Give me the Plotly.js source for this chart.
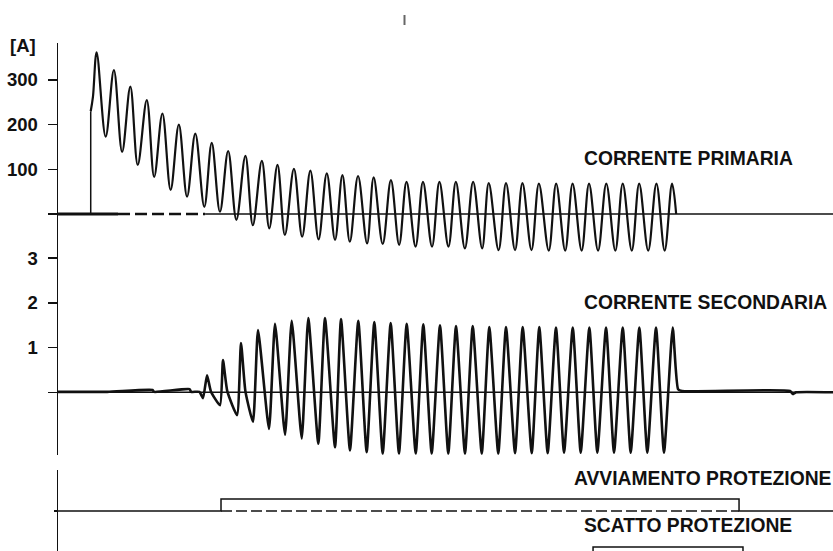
<!DOCTYPE html>
<html><head><meta charset="utf-8">
<script src="https://cdn.plot.ly/plotly-3.0.1.min.js"></script>
<style>html,body{margin:0;padding:0;background:#fff;}#chart{width:833px;height:551px;}</style>
</head><body><div id="chart"></div>
<script>
// ---- data (time in ms) ----
// primary current [A]: key points (onset, peaks and troughs in order)
const primaryOnsetT = [0, 39.8, 39.8];
const primaryOnsetA = [0, 0, 230];
const primaryT = [39.8, 42.5, 47, 58, 68, 78, 88, 97, 108, 117, 127, 137, 147, 157, 167, 178, 187, 197, 207, 217, 228, 237, 248, 257, 267, 276, 287, 297, 307, 317, 327, 337, 346, 355, 365, 376, 384, 395, 405, 415, 424, 435, 444, 455, 464, 475, 484, 495, 505, 516, 524, 536, 545, 556, 565, 576, 585, 597, 606, 617, 626, 637, 646, 657, 667, 678, 687, 698, 707, 718, 728, 738, 747, 752];
const primaryA = [230, 262, 362, 173, 322, 139, 285, 110, 255, 83, 225, 54, 200, 39, 180, 16, 159, 5, 141, -13, 130, -25, 119, -32, 110, -47, 101, -51, 97, -57, 91, -58, 87, -62, 85, -66, 82, -67, 76, -69, 72, -73, 72, -73, 72, -73, 72, -77, 72, -77, 69, -81, 69, -81, 69, -81, 68, -82, 68, -82, 68, -82, 68, -82, 68, -82, 68, -82, 68, -82, 68, -82, 68, 0];

// secondary current [A]
const secondaryT = [0, 60, 115, 117, 160, 162, 172, 176.4, 181.3, 186, 197.1, 200.7, 206, 217.8, 222.6, 228, 237.2, 243.3, 256.7, 264.0, 276.2, 284.3, 296.5, 304.5, 316.7, 324.8, 337.0, 344.3, 355.2, 365.3, 375.5, 384.8, 395.0, 404.7, 414.8, 424.2, 435.2, 444.4, 454.6, 464.7, 474.8, 484.2, 495.1, 504.5, 515.5, 524.7, 535.6, 545.0, 556.0, 565.3, 576.3, 585.5, 595.7, 605.8, 615.6, 626.2, 635.9, 646.4, 656.1, 666.7, 676.4, 687.0, 696.7, 707.2, 716.9, 727.5, 737.2, 747.8, 754.3, 759, 890.5, 894.2, 898, 943];
const secondaryA = [0.01, 0.01, 0.05, 0.01, 0.07, 0.01, 0.01, -0.13, 0.38, 0.02, -0.29, 0.72, 0.02, -0.51, 1.10, 0.02, -0.66, 1.39, -0.82, 1.53, -0.95, 1.60, -1.03, 1.66, -1.15, 1.66, -1.23, 1.64, -1.30, 1.60, -1.34, 1.57, -1.37, 1.55, -1.37, 1.53, -1.37, 1.52, -1.37, 1.50, -1.37, 1.48, -1.37, 1.48, -1.37, 1.46, -1.37, 1.46, -1.36, 1.46, -1.36, 1.46, -1.36, 1.45, -1.35, 1.45, -1.35, 1.45, -1.35, 1.45, -1.35, 1.45, -1.35, 1.45, -1.35, 1.45, -1.35, 1.45, 0.07, 0.03, 0.03, -0.04, 0, 0];

// protection signals (on / off times, ms)
const startOnT = 198.3, startOffT = 828.5;
const tripOnT = 650.9, tripOffT = 833.3;
const tEnd = 943;

// baseline segments of the primary panel (solid / dashed / thin)
const primaryBaseSolid = [0, 73];
const primaryBaseDashed = [73, 179];
const primaryBaseThin = [179, tEnd];

// tick labels
const primaryTicks = [0, 100, 200, 300];
const primaryTickText = ['', '100', '200', '300'];
const secondaryTicks = [0, 1, 2, 3];
const secondaryTickText = ['', '1', '2', '3'];

const labels = {
  primary: 'CORRENTE PRIMARIA',
  secondary: 'CORRENTE SECONDARIA',
  start: 'AVVIAMENTO PROTEZIONE',
  trip: 'SCATTO PROTEZIONE',
  unit: '[A]'
};

// ---- drawing ----
const K = '#111';
const traces = [
  {x: primaryBaseSolid, y: [0, 0], yaxis: 'y', mode: 'lines', line: {color: K, width: 3}},
  {x: primaryBaseDashed, y: [0, 0], yaxis: 'y', mode: 'lines', line: {color: K, width: 2.5, dash: '12px,5px'}},
  {x: primaryBaseThin, y: [0, 0], yaxis: 'y', mode: 'lines', line: {color: K, width: 1.5}},
  {x: primaryOnsetT, y: primaryOnsetA, yaxis: 'y', mode: 'lines', line: {color: K, width: 1.5}},
  {x: primaryT, y: primaryA, yaxis: 'y', mode: 'lines', line: {color: K, width: 2.2, shape: 'spline', smoothing: 1}},
  {x: [0, tEnd], y: [0, 0], yaxis: 'y2', mode: 'lines', line: {color: K, width: 1.5}},
  {x: secondaryT, y: secondaryA, yaxis: 'y2', mode: 'lines', line: {color: K, width: 2.6, shape: 'spline', smoothing: 0.5}},
  {x: [0, startOnT, startOnT, startOffT, startOffT, tEnd], y: [0, 0, 1, 1, 0, 0], yaxis: 'y3', mode: 'lines', line: {color: K, width: 1.5}},
  {x: [startOnT, startOffT], y: [0, 0], yaxis: 'y3', mode: 'lines', line: {color: K, width: 1.5, dash: '11px,4px'}},
  {x: [0, tripOnT, tripOnT, tripOffT, tripOffT, tEnd], y: [0, 0, 1, 1, 0, 0], yaxis: 'y4', mode: 'lines', line: {color: K, width: 1.5}}
];

const tickFont = {family: 'Liberation Sans, Arial, sans-serif', size: 18.5, color: K, weight: 'bold'};
const labFont = {family: 'Liberation Sans, Arial, sans-serif', size: 19.3, color: K, weight: 'bold'};
const yBase = {showgrid: false, zeroline: false, showline: true, linecolor: K, linewidth: 1.5,
  ticks: 'outside', ticklen: 9, tickwidth: 1.5, tickcolor: K, tickfont: tickFont, tickmode: 'array',
  ticklabelstandoff: 6, fixedrange: true, anchor: 'x'};

const layout = {
  width: 833, height: 551,
  margin: {l: 0, r: 0, t: 0, b: 0},
  paper_bgcolor: '#fff', plot_bgcolor: 'rgba(0,0,0,0)',
  showlegend: false,
  xaxis: {domain: [58 / 833, 1], range: [0, tEnd - 0.2], visible: false, fixedrange: true},
  yaxis: Object.assign({}, yBase, {domain: [0.53721, 0.92196], range: [-91.8, 382.8], tickvals: primaryTicks, ticktext: primaryTickText}),
  yaxis2: Object.assign({}, yBase, {domain: [0.17423, 0.59165], range: [-1.403, 3.743], tickvals: secondaryTicks, ticktext: secondaryTickText}),
  yaxis3: Object.assign({}, yBase, {domain: [0, 0.14701], range: [-3.333, 3.417], tickvals: [0], ticktext: [''], ticklen: 3}),
  yaxis4: {domain: [0, 0.0998], range: [0.667, 5.25], visible: false, fixedrange: true, anchor: 'x'},
  annotations: [
    {text: labels.primary, xref: 'x', yref: 'y', x: 637, y: 123.6, xanchor: 'left', yanchor: 'middle', showarrow: false, font: labFont},
    {text: labels.secondary, xref: 'x', yref: 'y2', x: 637, y: 2.016, xanchor: 'left', yanchor: 'middle', showarrow: false, font: labFont},
    {text: labels.start, xref: 'x', yref: 'y3', x: 625.5, y: 2.68, xanchor: 'left', yanchor: 'middle', showarrow: false, font: labFont},
    {text: labels.trip, xref: 'x', yref: 'y3', x: 637.5, y: -1.23, xanchor: 'left', yanchor: 'middle', showarrow: false, font: labFont},
    {text: labels.unit, xref: 'paper', yref: 'paper', x: 22.5 / 833, y: 1 - 46 / 551, xanchor: 'center', yanchor: 'middle', showarrow: false, font: tickFont}
  ],
  shapes: [
    {type: 'line', xref: 'paper', yref: 'paper', x0: 404.5 / 833, x1: 404.5 / 833, y0: 1 - 15 / 551, y1: 1 - 25 / 551, line: {color: '#666', width: 2}}
  ]
};

Plotly.newPlot('chart', traces, layout, {displayModeBar: false, staticPlot: true});
</script>
</body></html>
